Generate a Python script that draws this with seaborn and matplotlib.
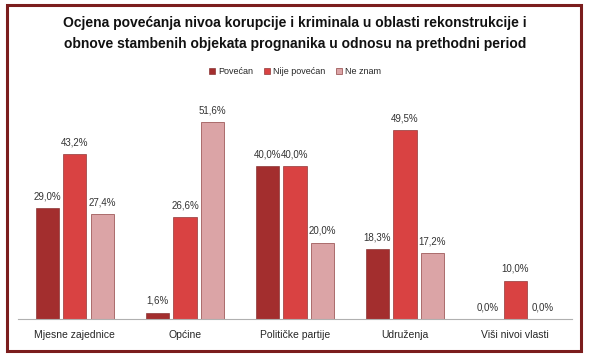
import pandas as pd
import matplotlib.pyplot as plt
import seaborn as sns
from matplotlib.patches import Rectangle

categories = ["Mjesne zajednice", "Općine", "Političke partije", "Udruženja", "Viši nivoi vlasti"]
series = ["Povećan", "Nije povećan", "Ne znam"]
povecan = [29.0, 1.6, 40.0, 18.3, 0.0]
nije_povecan = [43.2, 26.6, 40.0, 49.5, 10.0]
ne_znam = [27.4, 51.6, 20.0, 17.2, 0.0]
colors = ["#A32E2E", "#D94242", "#DBA4A6"]

title = ("Ocjena povećanja nivoa korupcije i kriminala u oblasti rekonstrukcije i\n"
         "obnove stambenih objekata prognanika u odnosu na prethodni period")

df = pd.DataFrame({"kategorija": categories * 3,
                   "odgovor": [s for s in series for _ in categories],
                   "vrijednost": povecan + nije_povecan + ne_znam})

sns.set_style("white")
plt.rcParams["font.family"] = ["Liberation Sans", "DejaVu Sans"]

fig = plt.figure(figsize=(5.9, 3.6), dpi=100)
ax = fig.add_axes([0.03, 0.114, 0.94, 0.636])

sns.barplot(data=df, x="kategorija", y="vrijednost", hue="odgovor",
            palette=colors, saturation=1, width=0.75, gap=0.16, ax=ax,
            edgecolor="#7a1f1f", linewidth=0.4)

ax.set_ylim(0, 60)
ax.set_xlim(-0.52, 4.52)
ax.set_xlabel("")
ax.set_ylabel("")
ax.set_yticks([])
ax.tick_params(axis="x", length=0, labelsize=7.5, pad=8)
for s in ["top", "right", "left"]:
    ax.spines[s].set_visible(False)
ax.spines["bottom"].set_color("#b0b0b0")

# value labels
for p in ax.patches:
    h = p.get_height()
    if p.get_width() == 0:
        continue
    ax.annotate(f"{h:.1f}%".replace(".", ","),
                (p.get_x() + p.get_width() / 2, h),
                xytext=(0, 5), textcoords="offset points",
                ha="center", va="bottom", fontsize=7, color="#333333")

ax.legend(loc="upper center", bbox_to_anchor=(0.5, 1.135), ncol=3, frameon=False,
          fontsize=6.5, handlelength=0.7, handleheight=0.7, handletextpad=0.3,
          columnspacing=1.2)

fig.text(0.5, 0.907, title, ha="center", va="center", fontsize=10,
         fontweight="bold", linespacing=1.55, color="#111111")

# frame around the chart
fig.patches.append(Rectangle((0.012, 0.025), 0.972, 0.96, transform=fig.transFigure,
                             fill=False, edgecolor="#7b1d1d", linewidth=2.2))

fig.savefig("out.png", dpi=100)
